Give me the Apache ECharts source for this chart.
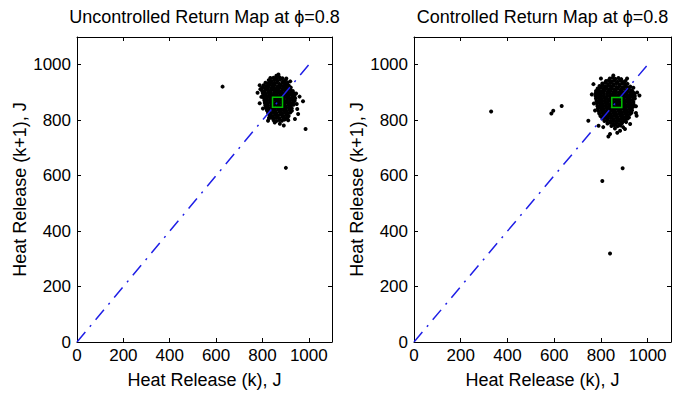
<!DOCTYPE html>
<html><head><meta charset="utf-8">
<script src="https://cdn.jsdelivr.net/npm/echarts@6/dist/echarts.min.js"></script>
<style>html,body{margin:0;padding:0;background:#fff}#c{width:684px;height:394px}</style>
</head><body><div id="c"></div>
<script>
const titles = ['Uncontrolled Return Map at ϕ=0.8', 'Controlled Return Map at ϕ=0.8'];
const xName = 'Heat Release (k), J';
const yName = 'Heat Release (k+1), J';
const tickValues = [0, 200, 400, 600, 800, 1000];
const axisMax = 1100;
const diagonal = [[0, 0], [1000, 1000]];
const uncontrolledFixedPoint = [[865, 865]];
const controlledFixedPoint = [[868, 864]];

const uncontrolledCore = [
[848,953],[860,950],[873,955],[886,951],
[827,944],[839,941],[851,945],[864,942],[876,946],[889,940],[899,944],
[813,935],[825,932],[836,937],[849,933],[862,936],[873,931],[886,935],[897,932],[909,936],
[805,926],[817,923],[830,927],[842,924],[853,928],[866,922],[879,926],[891,923],[903,927],[914,924],
[799,917],[812,914],[824,918],[837,915],[850,919],[861,913],[874,917],[887,914],[899,918],[910,915],[922,918],
[797,908],[810,905],[822,909],[834,906],[847,910],[859,904],[871,908],[884,905],[896,909],[908,906],[920,909],[931,905],
[801,899],[813,896],[826,900],[837,897],[850,901],[863,895],[874,899],[887,896],[899,900],[912,897],[924,901],[935,897],
[803,890],[816,887],[828,891],[841,888],[852,892],[865,886],[877,890],[890,887],[902,891],[914,888],[926,892],[938,888],
[806,881],[818,878],[831,882],[843,879],[855,883],[868,877],[880,881],[892,878],[905,882],[917,879],[929,883],[941,879],
[808,872],[820,869],[832,873],[845,870],[857,874],[869,868],[882,872],[894,869],[906,873],[919,870],[931,874],[939,870],
[810,863],[822,860],[835,864],[847,861],[859,865],[871,859],[884,863],[896,860],[908,864],[921,861],[933,865],
[812,854],[824,851],[837,855],[849,852],[861,856],[874,850],[886,854],[898,851],[911,855],[923,852],[934,856],
[815,845],[827,842],[840,846],[852,843],[864,847],[877,841],[889,845],[901,842],[914,846],[926,843],
[819,836],[831,833],[843,837],[856,834],[868,838],[880,832],[892,836],[905,833],[917,837],[927,834],
[824,827],[836,824],[848,828],[860,825],[873,829],[885,823],[897,827],[909,824],[920,828],
[830,818],[842,815],[854,819],[867,816],[879,820],[891,814],[903,818],[913,815],
[838,809],[850,806],[862,810],[874,807],[887,811],[898,805],[908,809],
[848,800],[860,797],[872,801],[884,798],[895,802]
];
const uncontrolledSparse = [
[869,965],[788,926],[779,899],[788,861],[960,885],[975,868],[954,822],[940,804],[892,781],[853,792],
[824,798],[875,787],[791,912],[795,884],[945,896],[948,858],[834,952],[903,950],[920,940],[802,842],
[860,960],[911,800],[828,808],[950,840],
[628,921],[986,768],[901,628]
];

const controlledCore = [
[838,950],[851,953],[862,949],[875,952],[887,948],
[822,941],[834,944],[846,940],[858,943],[871,939],[883,942],[895,938],[905,941],
[806,932],[818,935],[830,931],[842,934],[855,930],[867,933],[879,929],[891,932],[903,928],[914,931],
[794,923],[806,926],[818,922],[831,925],[843,921],[855,924],[867,920],[880,923],[892,919],[904,922],[916,918],[926,921],
[786,914],[798,917],[810,913],[823,916],[835,912],[847,915],[859,911],[872,914],[884,910],[896,913],[908,909],[920,912],[932,908],
[779,905],[791,908],[803,904],[815,907],[828,903],[840,906],[852,902],[864,905],[877,901],[889,904],[901,900],[913,903],[925,899],[937,902],
[777,896],[789,899],[801,895],[813,898],[826,894],[838,897],[850,893],[862,896],[875,892],[887,895],[899,891],[911,894],[923,890],[935,893],[943,896],
[777,887],[789,890],[801,886],[813,889],[826,885],[838,888],[850,884],[862,887],[875,883],[887,886],[899,882],[911,885],[923,881],[935,884],[945,887],
[779,878],[791,881],[803,877],[815,880],[828,876],[840,879],[852,875],[864,878],[877,874],[889,877],[901,873],[913,876],[925,872],[937,875],[945,878],
[781,869],[793,872],[805,868],[817,871],[830,867],[842,870],[854,866],[866,869],[879,865],[891,868],[903,864],[915,867],[927,863],[939,866],
[783,860],[795,863],[807,859],[819,862],[832,858],[844,861],[856,857],[868,860],[881,856],[893,859],[905,855],[917,858],[929,854],[940,857],
[785,851],[797,854],[809,850],[821,853],[834,849],[846,852],[858,848],[870,851],[883,847],[895,850],[907,846],[919,849],[931,845],[938,848],
[787,842],[799,845],[811,841],[823,844],[836,840],[848,843],[860,839],[872,842],[885,838],[897,841],[909,837],[921,840],[933,836],
[790,833],[802,836],[814,832],[826,835],[839,831],[851,834],[863,830],[875,833],[888,829],[900,832],[912,828],[924,831],[931,827],
[793,824],[805,827],[817,823],[829,826],[842,822],[854,825],[866,821],[878,824],[891,820],[903,823],[915,819],[925,822],
[798,815],[810,818],[822,814],[835,817],[847,813],[859,816],[871,812],[884,815],[896,811],[908,814],[920,810],
[806,806],[818,809],[830,805],[843,808],[855,804],[867,807],[879,803],[892,806],[904,802],[913,805],
[815,797],[827,800],[840,796],[852,799],[864,795],[876,798],[889,794],[900,797],[908,793],
[828,788],[841,791],[853,787],[866,790],[878,786],[890,789],
[845,779],[858,782],[871,778],[883,781]
];
const controlledSparse = [
[853,961],[939,917],[965,889],[953,816],[950,826],[925,786],[903,768],[882,762],[839,750],[832,741],
[746,798],[761,893],[770,860],[768,930],[800,950],[912,950],[950,850],[790,780],[810,775],[860,770],
[870,755],[895,775],[955,900],[775,835],
[330,831],[588,824],[596,834],[632,851],[893,627],[806,581],[839,319]
];

const FONT = '"Liberation Sans", Arial, Helvetica, sans-serif';
const BLACK = '#000';
const gridBoxes = [
  { left: 77, top: 37, width: 255, height: 306 },
  { left: 414, top: 37, width: 257, height: 306 }
];
const panels = [
  { title: titles[0], points: uncontrolledCore.concat(uncontrolledSparse), fixed: uncontrolledFixedPoint },
  { title: titles[1], points: controlledCore.concat(controlledSparse), fixed: controlledFixedPoint }
];

function axisCommon(g, pos) {
  return {
    type: 'value', gridIndex: g, position: pos, min: 0, max: axisMax,
    axisLine: { onZero: false, lineStyle: { color: BLACK, width: 1 } },
    axisTick: { inside: true, length: 4, customValues: tickValues, lineStyle: { color: BLACK, width: 1 } },
    splitLine: { show: false }
  };
}
const plainNumber = v => String(v);
const xAxes = [], yAxes = [], series = [], graphics = [];
panels.forEach((p, g) => {
  const bx = Object.assign(axisCommon(g, 'bottom'), {
    name: xName, nameLocation: 'middle', nameGap: 29,
    nameTextStyle: { fontFamily: FONT, fontSize: 18, color: BLACK },
    axisLabel: { customValues: tickValues, formatter: plainNumber, fontFamily: FONT, fontSize: 17, color: BLACK, margin: 5 }
  });
  const tx = Object.assign(axisCommon(g, 'top'), { axisLabel: { show: false } });
  const ly = Object.assign(axisCommon(g, 'left'), {
    name: yName, nameLocation: 'middle', nameGap: 41,
    nameTextStyle: { fontFamily: FONT, fontSize: 18, color: BLACK },
    axisLabel: { customValues: tickValues, formatter: plainNumber, fontFamily: FONT, fontSize: 17, color: BLACK, margin: 6 }
  });
  const ry = Object.assign(axisCommon(g, 'right'), { axisLabel: { show: false } });
  xAxes.push(bx, tx);
  yAxes.push(ly, ry);
  series.push({
    type: 'scatter', xAxisIndex: 2 * g, yAxisIndex: 2 * g, data: p.points,
    symbol: 'circle', symbolSize: 4, itemStyle: { color: BLACK, opacity: 1 }, silent: true, z: 2
  });
  series.push({
    type: 'line', xAxisIndex: 2 * g, yAxisIndex: 2 * g, data: diagonal, showSymbol: false,
    lineStyle: { color: '#1f1fe6', width: 1.5, type: [13, 7, 2, 7] }, silent: true, z: 3
  });
  series.push({
    type: 'scatter', xAxisIndex: 2 * g, yAxisIndex: 2 * g, data: p.fixed,
    symbol: 'rect', symbolSize: 10,
    itemStyle: { color: 'rgba(0,0,0,0)', borderColor: '#00c000', borderWidth: 1.5, opacity: 1 }, silent: true, z: 4
  });
  const box = gridBoxes[g];
  graphics.push({
    type: 'text', x: box.left + box.width / 2, y: 17,
    style: { text: p.title, font: '18px ' + FONT, fill: BLACK, align: 'center', verticalAlign: 'middle' }
  });
});

const chart = echarts.init(document.getElementById('c'), null, { renderer: 'svg' });
chart.setOption({
  animation: false,
  backgroundColor: '#fff',
  grid: gridBoxes.map(b => Object.assign({ containLabel: false }, b)),
  xAxis: xAxes,
  yAxis: yAxes,
  series: series,
  graphic: graphics
});
</script></body></html>
